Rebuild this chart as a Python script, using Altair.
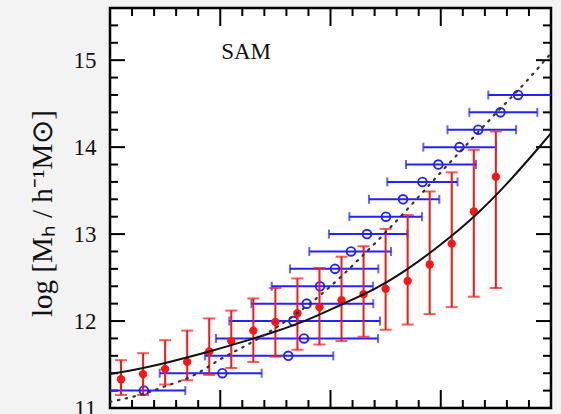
import altair as alt
import pandas as pd

# ---- data -------------------------------------------------------------
# red: halo mass in bins of the x quantity (filled points, vertical scatter)
red_x = [0.1, 0.3, 0.5, 0.7, 0.9, 1.1, 1.3, 1.5, 1.7, 1.9,
         2.1, 2.3, 2.5, 2.7, 2.9, 3.1, 3.3, 3.5]
red_y = [11.33, 11.39, 11.45, 11.53, 11.65, 11.77, 11.89, 11.99, 12.09, 12.16,
         12.24, 12.31, 12.37, 12.46, 12.65, 12.89, 13.26, 13.66]
red_hi = [11.55, 11.63, 11.78, 11.89, 12.03, 12.12, 12.26, 12.38, 12.49, 12.61,
          12.74, 12.86, 13.06, 13.22, 13.49, 13.71, 13.97, 14.18]
red_lo = [11.15, 11.15, 11.27, 11.32, 11.38, 11.46, 11.53, 11.59, 11.67, 11.73,
          11.77, 11.82, 11.90, 11.96, 12.08, 12.16, 12.28, 12.38]

# blue: x quantity in bins of halo mass (open circles, horizontal scatter)
blue_y = [11.2, 11.4, 11.6, 11.8, 12.0, 12.2, 12.4, 12.6, 12.8,
          13.0, 13.2, 13.4, 13.6, 13.8, 14.0, 14.2, 14.4, 14.6]
blue_x = [0.308, 1.019, 1.617, 1.760, 1.663, 1.784, 1.905, 2.041, 2.186,
          2.331, 2.503, 2.658, 2.834, 2.978, 3.170, 3.340, 3.542, 3.701]
blue_lo = [-0.15, 0.451, 0.862, 0.961, 1.082, 1.283, 1.467, 1.633, 1.808,
           1.986, 2.171, 2.349, 2.515, 2.685, 2.842, 3.061, 3.259, 3.431]
blue_hi = [0.683, 1.376, 2.025, 2.431, 2.449, 2.388, 2.385, 2.434, 2.549,
           2.698, 2.830, 2.987, 3.152, 3.320, 3.501, 3.683, 3.876, 4.15]

# solid relation
fit_x = [0.0, 0.3, 0.6, 0.9, 1.2, 1.5, 1.8, 2.1, 2.4, 2.7, 3.0, 3.3, 3.6, 3.9, 4.0]
fit_y = [11.39, 11.46, 11.55, 11.65, 11.76, 11.88, 12.02, 12.19, 12.37, 12.60,
         12.88, 13.20, 13.58, 14.01, 14.16]

# dotted relation
dot_x = [0.0, 0.3, 0.5, 0.75, 1.0, 1.25, 1.5, 1.75, 2.0, 2.25, 2.5, 2.75,
         3.0, 3.25, 3.5, 3.75, 4.0]
dot_y = [11.07, 11.16, 11.25, 11.37, 11.56, 11.73, 11.92, 12.14, 12.40, 12.70,
         13.02, 13.36, 13.71, 14.05, 14.39, 14.72, 15.08]

y_major = [11, 12, 13, 14, 15]
x_major = [0, 1, 2, 3, 4]

label_text = ["SAM"]
label_x = [1.234]
label_y = [15.09]

# ---- layout -----------------------------------------------------------
W, H = 441, 400
RED = "#ff1414"
BLUE = "#2323ff"
SERIF = "Liberation Serif"

x_scale = alt.Scale(domain=[0, 4], nice=False, zero=False)
y_scale = alt.Scale(domain=[11, 15.6], nice=False, zero=False)

y_minor = [round(11 + 0.2 * i, 1) for i in range(24) if i % 5 != 0]
x_minor = [round(0.2 * i, 1) for i in range(21) if i % 5 != 0]

red = pd.DataFrame({"x": red_x, "y": red_y, "lo": red_lo, "hi": red_hi})
blue = pd.DataFrame({"x": blue_x, "y": blue_y, "lo": blue_lo, "hi": blue_hi})
fit = pd.DataFrame({"x": fit_x, "y": fit_y})
dots = pd.DataFrame({"x": dot_x, "y": dot_y})
lab = pd.DataFrame({"t": label_text, "x": label_x, "y": label_y})

y_axis = alt.Axis(
    values=y_major, ticks=False, domain=False, grid=False,
    labelFont=SERIF, labelFontSize=23, labelColor="#111", labelPadding=14,
    title="log [Mₕ  /  h⁻¹M⊙]", titleFont=SERIF, titleFontSize=29,
    titleFontWeight="normal", titleColor="#111",
    titleX=-68, titleY=205, titleAngle=270, titleBaseline="middle",
    titleAlign="center",
)


def X(f):
    return alt.X(f, type="quantitative", scale=x_scale, axis=None)


def Y(f):
    return alt.Y(f, type="quantitative", scale=y_scale, axis=y_axis)


# frame tick marks pointing inward on all four sides
def yticks(values, length):
    d = pd.DataFrame({"v": values})
    left = alt.Chart(d).mark_rule(color="black", strokeWidth=2).encode(
        y=Y("v"), x=alt.value(0), x2=alt.value(length))
    right = alt.Chart(d).mark_rule(color="black", strokeWidth=2).encode(
        y=Y("v"), x=alt.value(W - length), x2=alt.value(W))
    return [left, right]


def xticks(values, length):
    d = pd.DataFrame({"v": values})
    top = alt.Chart(d).mark_rule(color="black", strokeWidth=2).encode(
        x=X("v"), y=alt.value(0), y2=alt.value(length))
    bottom = alt.Chart(d).mark_rule(color="black", strokeWidth=2).encode(
        x=X("v"), y=alt.value(H - length), y2=alt.value(H))
    return [top, bottom]


blue_bars = alt.Chart(blue).mark_rule(color=BLUE, strokeWidth=2, clip=True).encode(
    x=X("lo"), x2="hi", y=Y("y"))
blue_cap_l = alt.Chart(blue).mark_tick(color=BLUE, orient="vertical", size=9,
                                       thickness=2, clip=True).encode(x=X("lo"), y=Y("y"))
blue_cap_r = alt.Chart(blue).mark_tick(color=BLUE, orient="vertical", size=9,
                                       thickness=2, clip=True).encode(x=X("hi"), y=Y("y"))
blue_pts = alt.Chart(blue).mark_point(shape="circle", filled=False, color=BLUE,
                                      size=75, strokeWidth=1.9, opacity=1).encode(
    x=X("x"), y=Y("y"))

red_bars = alt.Chart(red).mark_rule(color=RED, strokeWidth=2).encode(
    x=X("x"), y=Y("lo"), y2="hi")
red_cap_lo = alt.Chart(red).mark_tick(color=RED, orient="horizontal", size=12,
                                      thickness=2).encode(x=X("x"), y=Y("lo"))
red_cap_hi = alt.Chart(red).mark_tick(color=RED, orient="horizontal", size=12,
                                      thickness=2).encode(x=X("x"), y=Y("hi"))
red_pts = alt.Chart(red).mark_circle(color=RED, size=70, opacity=1).encode(
    x=X("x"), y=Y("y"))

fit_line = alt.Chart(fit).mark_line(color="#111", strokeWidth=2,
                                    interpolate="natural", clip=True).encode(
    x=X("x"), y=Y("y"))
dot_line = alt.Chart(dots).mark_line(color="#333", strokeWidth=2.2,
                                     strokeDash=[1.5, 6.5], strokeCap="round",
                                     interpolate="natural", clip=True).encode(
    x=X("x"), y=Y("y"))

sam = alt.Chart(lab).mark_text(font=SERIF, fontSize=23, color="#111",
                               align="center", baseline="middle").encode(
    x=X("x"), y=Y("y"), text="t:N")

chart = alt.layer(
    *yticks(y_major, 15), *yticks(y_minor, 8),
    *xticks(x_major, 18), *xticks(x_minor, 8),
    blue_bars, blue_cap_l, blue_cap_r, blue_pts,
    red_bars, red_cap_lo, red_cap_hi, red_pts,
    fit_line, dot_line, sam,
).properties(
    width=W, height=H,
    autosize=alt.AutoSizeParams(type="none"),
    padding={"left": 110, "top": 8, "right": 10, "bottom": 6},
    background="#f3f3f3",
).configure_view(
    stroke="black", strokeWidth=2.5, fill="white",
)

chart.save("out.html", embed_options={"renderer": "svg", "actions": False})
